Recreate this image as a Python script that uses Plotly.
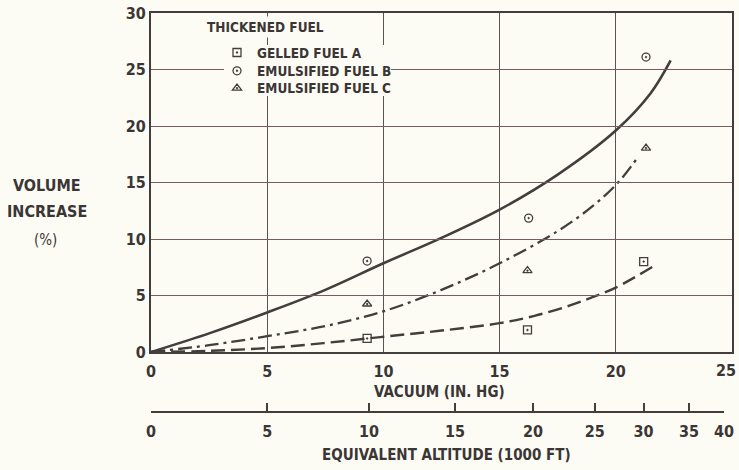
import plotly.graph_objects as go

# ---------------- data ----------------
# measured points (vacuum in. Hg, volume increase %)
gelled_a_x = [9.3, 16.2, 21.2]
gelled_a_y = [1.2, 1.95, 8.0]
emuls_b_x = [9.3, 16.25, 21.3]
emuls_b_y = [8.05, 11.85, 26.1]
emuls_c_x = [9.3, 16.2, 21.3]
emuls_c_y = [4.25, 7.2, 18.05]

# faired curves
curve_b_x = [0, 2.5, 5, 7.5, 10, 12.5, 15, 17.5, 20, 21.5, 22.36]
curve_b_y = [0, 1.65, 3.5, 5.5, 7.85, 10.1, 12.6, 15.7, 19.6, 22.9, 25.8]
curve_c_x = [0, 2.5, 5, 7.5, 10, 12.5, 15, 17.5, 19, 20.1, 20.9]
curve_c_y = [0, 0.6, 1.4, 2.3, 3.6, 5.5, 7.85, 10.7, 12.9, 15.0, 17.1]
curve_a_x = [0, 2.5, 5, 7.5, 10, 12.5, 15, 16.5, 18, 19, 20, 21.75]
curve_a_y = [0, 0.1, 0.35, 0.8, 1.35, 1.9, 2.55, 3.2, 4.1, 4.85, 5.7, 7.75]

# axes
y_ticks = [0, 5, 10, 15, 20, 25, 30]
x_ticks = [0, 5, 10, 15, 20, 25]
alt_tick_vacuum = [0, 5.0, 9.38, 13.08, 16.44, 19.1, 21.2, 23.15, 24.66]
alt_tick_labels = ["0", "5", "10", "15", "20", "25", "30", "35", "40"]

legend_names = ["GELLED FUEL A", "EMULSIFIED FUEL B", "EMULSIFIED FUEL C"]

# ---------------- style ----------------
BG = "#fdfcf4"
INK = "#3b3636"
LINE = "#433d3d"
FONT = "DejaVu Sans Condensed, Liberation Sans Narrow, Arial Narrow, sans-serif"

W, H = 739, 470
L, R, T, B = 151, 7, 13, 58
plot_w = W - L - R
plot_h = H - T - B
ydom0 = (412 - 352) / plot_h
x2_end = (724 - L) / plot_w


def px(xp):
    return (xp - L) / plot_w


def py(yp):
    return 1 - (yp - T) / plot_h


fig = go.Figure()

fig.add_trace(go.Scatter(x=curve_b_x, y=curve_b_y, mode="lines",
                         line=dict(color=LINE, width=2.6, shape="spline", smoothing=1.0),
                         showlegend=False, hoverinfo="skip"))
fig.add_trace(go.Scatter(x=curve_c_x, y=curve_c_y, mode="lines",
                         line=dict(color=LINE, width=2.3, shape="spline", smoothing=1.0, dash="14px,5px,3px,5px"),
                         showlegend=False, hoverinfo="skip"))
fig.add_trace(go.Scatter(x=curve_a_x, y=curve_a_y, mode="lines",
                         line=dict(color=LINE, width=2.4, shape="spline", smoothing=1.0, dash="14px,6px"),
                         showlegend=False, hoverinfo="skip"))

mk = dict(color=LINE, size=8, line=dict(color=LINE, width=1.3))
fig.add_trace(go.Scatter(x=gelled_a_x, y=gelled_a_y, mode="markers", name=legend_names[0], legend="legend",
                         marker=dict(symbol="square-open-dot", **mk)))
fig.add_trace(go.Scatter(x=emuls_b_x, y=emuls_b_y, mode="markers", name=legend_names[1], legend="legend2",
                         marker=dict(symbol="circle-open-dot", **mk)))
fig.add_trace(go.Scatter(x=emuls_c_x, y=emuls_c_y, mode="markers", name=legend_names[2], legend="legend3",
                         marker=dict(symbol="triangle-up-open-dot", **mk)))

# carrier trace for the altitude axis
fig.add_trace(go.Scatter(x=alt_tick_vacuum, y=[None] * len(alt_tick_vacuum), xaxis="x2", yaxis="y",
                         mode="markers", showlegend=False, hoverinfo="skip"))

tickfont = dict(family=FONT, size=16, color=INK, weight="bold")
legfont = dict(family=FONT, size=13.5, color=INK, weight="bold")


def leg(yc):
    return dict(x=px(217), y=py(yc), xanchor="left", yanchor="middle", bgcolor="rgba(0,0,0,0)",
                font=legfont, itemwidth=30, borderwidth=0)


fig.update_layout(
    width=W, height=H,
    margin=dict(l=L, r=R, t=T, b=B, autoexpand=False),
    paper_bgcolor=BG, plot_bgcolor="rgba(0,0,0,0)",
    font=dict(family=FONT, color=INK),
    xaxis=dict(range=[0, 25], domain=[0, 1], anchor="y", tickvals=x_ticks[:-1],
               ticks="", tickfont=tickfont,
               showgrid=True, gridcolor="#5a5555", gridwidth=1, zeroline=False,
               showline=True, linecolor=LINE, linewidth=2.2, mirror=True, ticklabelstandoff=4,
               ticklabeloverflow="allow"),
    yaxis=dict(range=[0, 30], domain=[ydom0, 1], anchor="x", tickvals=y_ticks, ticks="", tickfont=tickfont,
               showgrid=True, gridcolor="#7a5a5d", gridwidth=1, zeroline=False,
               showline=True, linecolor=LINE, linewidth=2.2, mirror=True, ticklabelstandoff=0,
               ticklabeloverflow="allow"),
    xaxis2=dict(range=[0, 24.66], domain=[0, x2_end], anchor="free", position=0, side="bottom",
                tickvals=alt_tick_vacuum, ticktext=alt_tick_labels, ticks="inside", ticklen=8, tickwidth=1.5,
                tickcolor=LINE, tickfont=tickfont, showgrid=False, zeroline=False,
                showline=True, linecolor=LINE, linewidth=2, ticklabelstandoff=5,
                ticklabeloverflow="allow"),
    legend=leg(52.7),
    legend2=leg(71),
    legend3=leg(88.3),
    showlegend=True,
)

# paper-coloured patch behind the legend entries (the printed key interrupts the grid)
fig.add_shape(type="rect", xref="paper", yref="paper", x0=px(224), x1=px(391), y0=py(96), y1=py(45),
              fillcolor=BG, line=dict(width=0), layer="above")

# last vacuum tick label sits at the page edge in the original; keep it inside the page
fig.add_annotation(text=str(x_ticks[-1]), xref="x", yref="paper", x=x_ticks[-1], y=py(370),
                   xanchor="right", yanchor="middle", xshift=5, showarrow=False, borderpad=0,
                   font=tickfont)


def ann(text, xc, yc, size, bold=True, bg=None):
    f = dict(family=FONT, color=INK, size=size)
    if bold:
        f["weight"] = "bold"
    kw = dict(text=text, xref="paper", yref="paper", x=px(xc), y=py(yc), xanchor="center", yanchor="middle",
              showarrow=False, font=f)
    if bg:
        kw["bgcolor"] = bg
        kw["borderpad"] = 2
    fig.add_annotation(**kw)


ann("THICKENED FUEL", 265.5, 27.5, 13.5, bg=BG)
ann("VACUUM (IN. HG)", 439, 392, 15)
ann("EQUIVALENT ALTITUDE (1000 FT)", 446, 455, 15)
ann("VOLUME", 47, 186, 16)
ann("INCREASE", 47, 211, 16)
ann("(%)", 45, 240, 15, bold=False)

fig.write_html("out.html", config={"displayModeBar": False},
               post_script="document.body.style.margin='0';document.body.style.overflow='hidden';")
